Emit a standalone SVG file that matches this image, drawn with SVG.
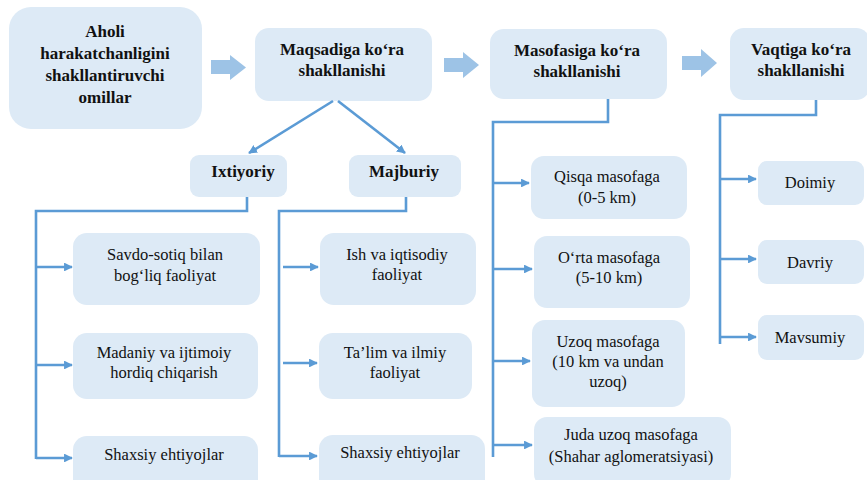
<svg xmlns="http://www.w3.org/2000/svg" width="867" height="480" viewBox="0 0 867 480">
<defs>
<marker id="ah" viewBox="0 0 10 10" refX="9" refY="5" markerWidth="3.4" markerHeight="3.4" orient="auto" markerUnits="strokeWidth">
<path d="M0,0 L10,5 L0,10 Z" fill="#5B9BD5"/>
</marker>
<style>
.box{fill:#DDEAF6;}
.h{font-family:"Liberation Serif","Times New Roman",serif;font-weight:bold;font-size:17px;fill:#111;text-anchor:middle;}
.t{font-family:"Liberation Serif","Times New Roman",serif;font-size:16.5px;fill:#111;text-anchor:middle;}
.ln{fill:none;stroke:#5B9BD5;stroke-width:2.6;}
.la{fill:none;stroke:#5B9BD5;stroke-width:2.6;marker-end:url(#ah);}
.big{fill:#9DC3E6;}
</style>
</defs>
<rect width="867" height="480" fill="#fff"/>

<g id="n-aholi"><rect class="box" x="9" y="7" width="193" height="122" rx="22"/>
<text class="h" x="105" y="37">Aholi</text><text class="h" x="105" y="59">harakatchanligini</text><text class="h" x="105" y="81">shakllantiruvchi</text><text class="h" x="105" y="103">omillar</text></g>

<g id="n-maqsad"><rect class="box" x="255" y="28" width="177" height="73" rx="14"/>
<text class="h" x="342" y="55">Maqsadiga ko‘ra</text><text class="h" x="342" y="76">shakllanishi</text></g>

<g id="n-masofa"><rect class="box" x="490" y="29" width="177" height="70" rx="14"/>
<text class="h" x="577" y="56">Masofasiga ko‘ra</text><text class="h" x="577" y="77">shakllanishi</text></g>

<g id="n-vaqt"><rect class="box" x="730" y="28" width="140" height="72" rx="14"/>
<text class="h" x="801" y="55">Vaqtiga ko‘ra</text><text class="h" x="801" y="76">shakllanishi</text></g>

<g id="n-ixt"><rect class="box" x="190" y="155" width="97" height="42" rx="9"/>
<text class="h" x="243" y="177">Ixtiyoriy</text></g>
<g id="n-maj"><rect class="box" x="349" y="155" width="112" height="42" rx="9"/>
<text class="h" x="404" y="177">Majburiy</text></g>

<g id="n-savdo"><rect class="box" x="73" y="233" width="187" height="72" rx="14"/>
<text class="t" x="165" y="260">Savdo-sotiq bilan</text><text class="t" x="165" y="281">bog‘liq faoliyat</text></g>
<g id="n-madaniy"><rect class="box" x="73" y="333" width="185" height="66" rx="14"/>
<text class="t" x="164" y="358">Madaniy va ijtimoiy</text><text class="t" x="164" y="378">hordiq chiqarish</text></g>
<g id="n-shax1"><rect class="box" x="73" y="436" width="185" height="60" rx="14"/>
<text class="t" x="164" y="460">Shaxsiy ehtiyojlar</text></g>

<g id="n-ish"><rect class="box" x="320" y="233" width="156" height="72" rx="14"/>
<text class="t" x="397" y="260">Ish va iqtisodiy</text><text class="t" x="397" y="280">faoliyat</text></g>
<g id="n-talim"><rect class="box" x="319" y="333" width="153" height="66" rx="14"/>
<text class="t" x="395" y="358">Ta’lim  va ilmiy</text><text class="t" x="395" y="378">faoliyat</text></g>
<g id="n-shax2"><rect class="box" x="319" y="435" width="166" height="60" rx="14"/>
<text class="t" x="400" y="458">Shaxsiy ehtiyojlar</text></g>

<g id="n-qisqa"><rect class="box" x="531" y="156" width="156" height="63" rx="13"/>
<text class="t" x="607" y="182">Qisqa masofaga</text><text class="t" x="607" y="203">(0-5 km)</text></g>
<g id="n-orta"><rect class="box" x="534" y="236" width="156" height="72" rx="13"/>
<text class="t" x="609" y="263">O‘rta masofaga</text><text class="t" x="609" y="283">(5-10 km)</text></g>
<g id="n-uzoq"><rect class="box" x="532" y="320" width="153" height="87" rx="13"/>
<text class="t" x="608" y="347">Uzoq masofaga</text><text class="t" x="608" y="367">(10 km va undan</text><text class="t" x="608" y="387">uzoq)</text></g>
<g id="n-juda"><rect class="box" x="534" y="417" width="197" height="70" rx="13"/>
<text class="t" x="631" y="440">Juda uzoq masofaga</text><text class="t" x="631" y="462">(Shahar aglomeratsiyasi)</text></g>

<g id="n-doimiy"><rect class="box" x="758" y="161" width="106" height="44" rx="9"/>
<text class="t" x="810" y="188">Doimiy</text></g>
<g id="n-davriy"><rect class="box" x="758" y="240" width="106" height="44" rx="9"/>
<text class="t" x="810" y="268">Davriy</text></g>
<g id="n-mavs"><rect class="box" x="758" y="315" width="106" height="45" rx="9"/>
<text class="t" x="810" y="343">Mavsumiy</text></g>

<g id="connectors">
<polygon class="big" points="211,60 230,60 230,55 246,67.5 230,80 230,74 211,74"/>
<polygon class="big" points="444,58 463,58 463,52 479,65 463,78 463,72 444,72"/>
<polygon class="big" points="682,56 701,56 701,49 717,63 701,77 701,70 682,70"/>

<line class="la" x1="333" y1="101" x2="249" y2="153"/>
<line class="la" x1="338" y1="101" x2="405" y2="153"/>

<path class="ln" d="M247,197 V211 H36 V459"/>
<line class="la" x1="36" y1="267" x2="72" y2="267"/>
<line class="la" x1="36" y1="365" x2="72" y2="365"/>
<line class="la" x1="36" y1="458" x2="72" y2="458"/>

<path class="ln" d="M406,197 V211 H279 V457"/>
<line class="la" x1="283" y1="267" x2="318" y2="267"/>
<line class="la" x1="283" y1="363" x2="317" y2="363"/>
<line class="la" x1="279" y1="456" x2="317" y2="456"/>

<path class="ln" d="M608,99 V122 H493 V457"/>
<line class="la" x1="493" y1="183" x2="529" y2="183"/>
<line class="la" x1="493" y1="269" x2="532" y2="269"/>
<line class="la" x1="493" y1="361" x2="530" y2="361"/>
<line class="la" x1="493" y1="445" x2="532" y2="445"/>

<path class="ln" d="M816,100 V115 H720 V344"/>
<line class="la" x1="720" y1="179" x2="756" y2="179"/>
<line class="la" x1="720" y1="259" x2="756" y2="259"/>
<line class="la" x1="720" y1="337" x2="756" y2="337"/>
</g>
</svg>
